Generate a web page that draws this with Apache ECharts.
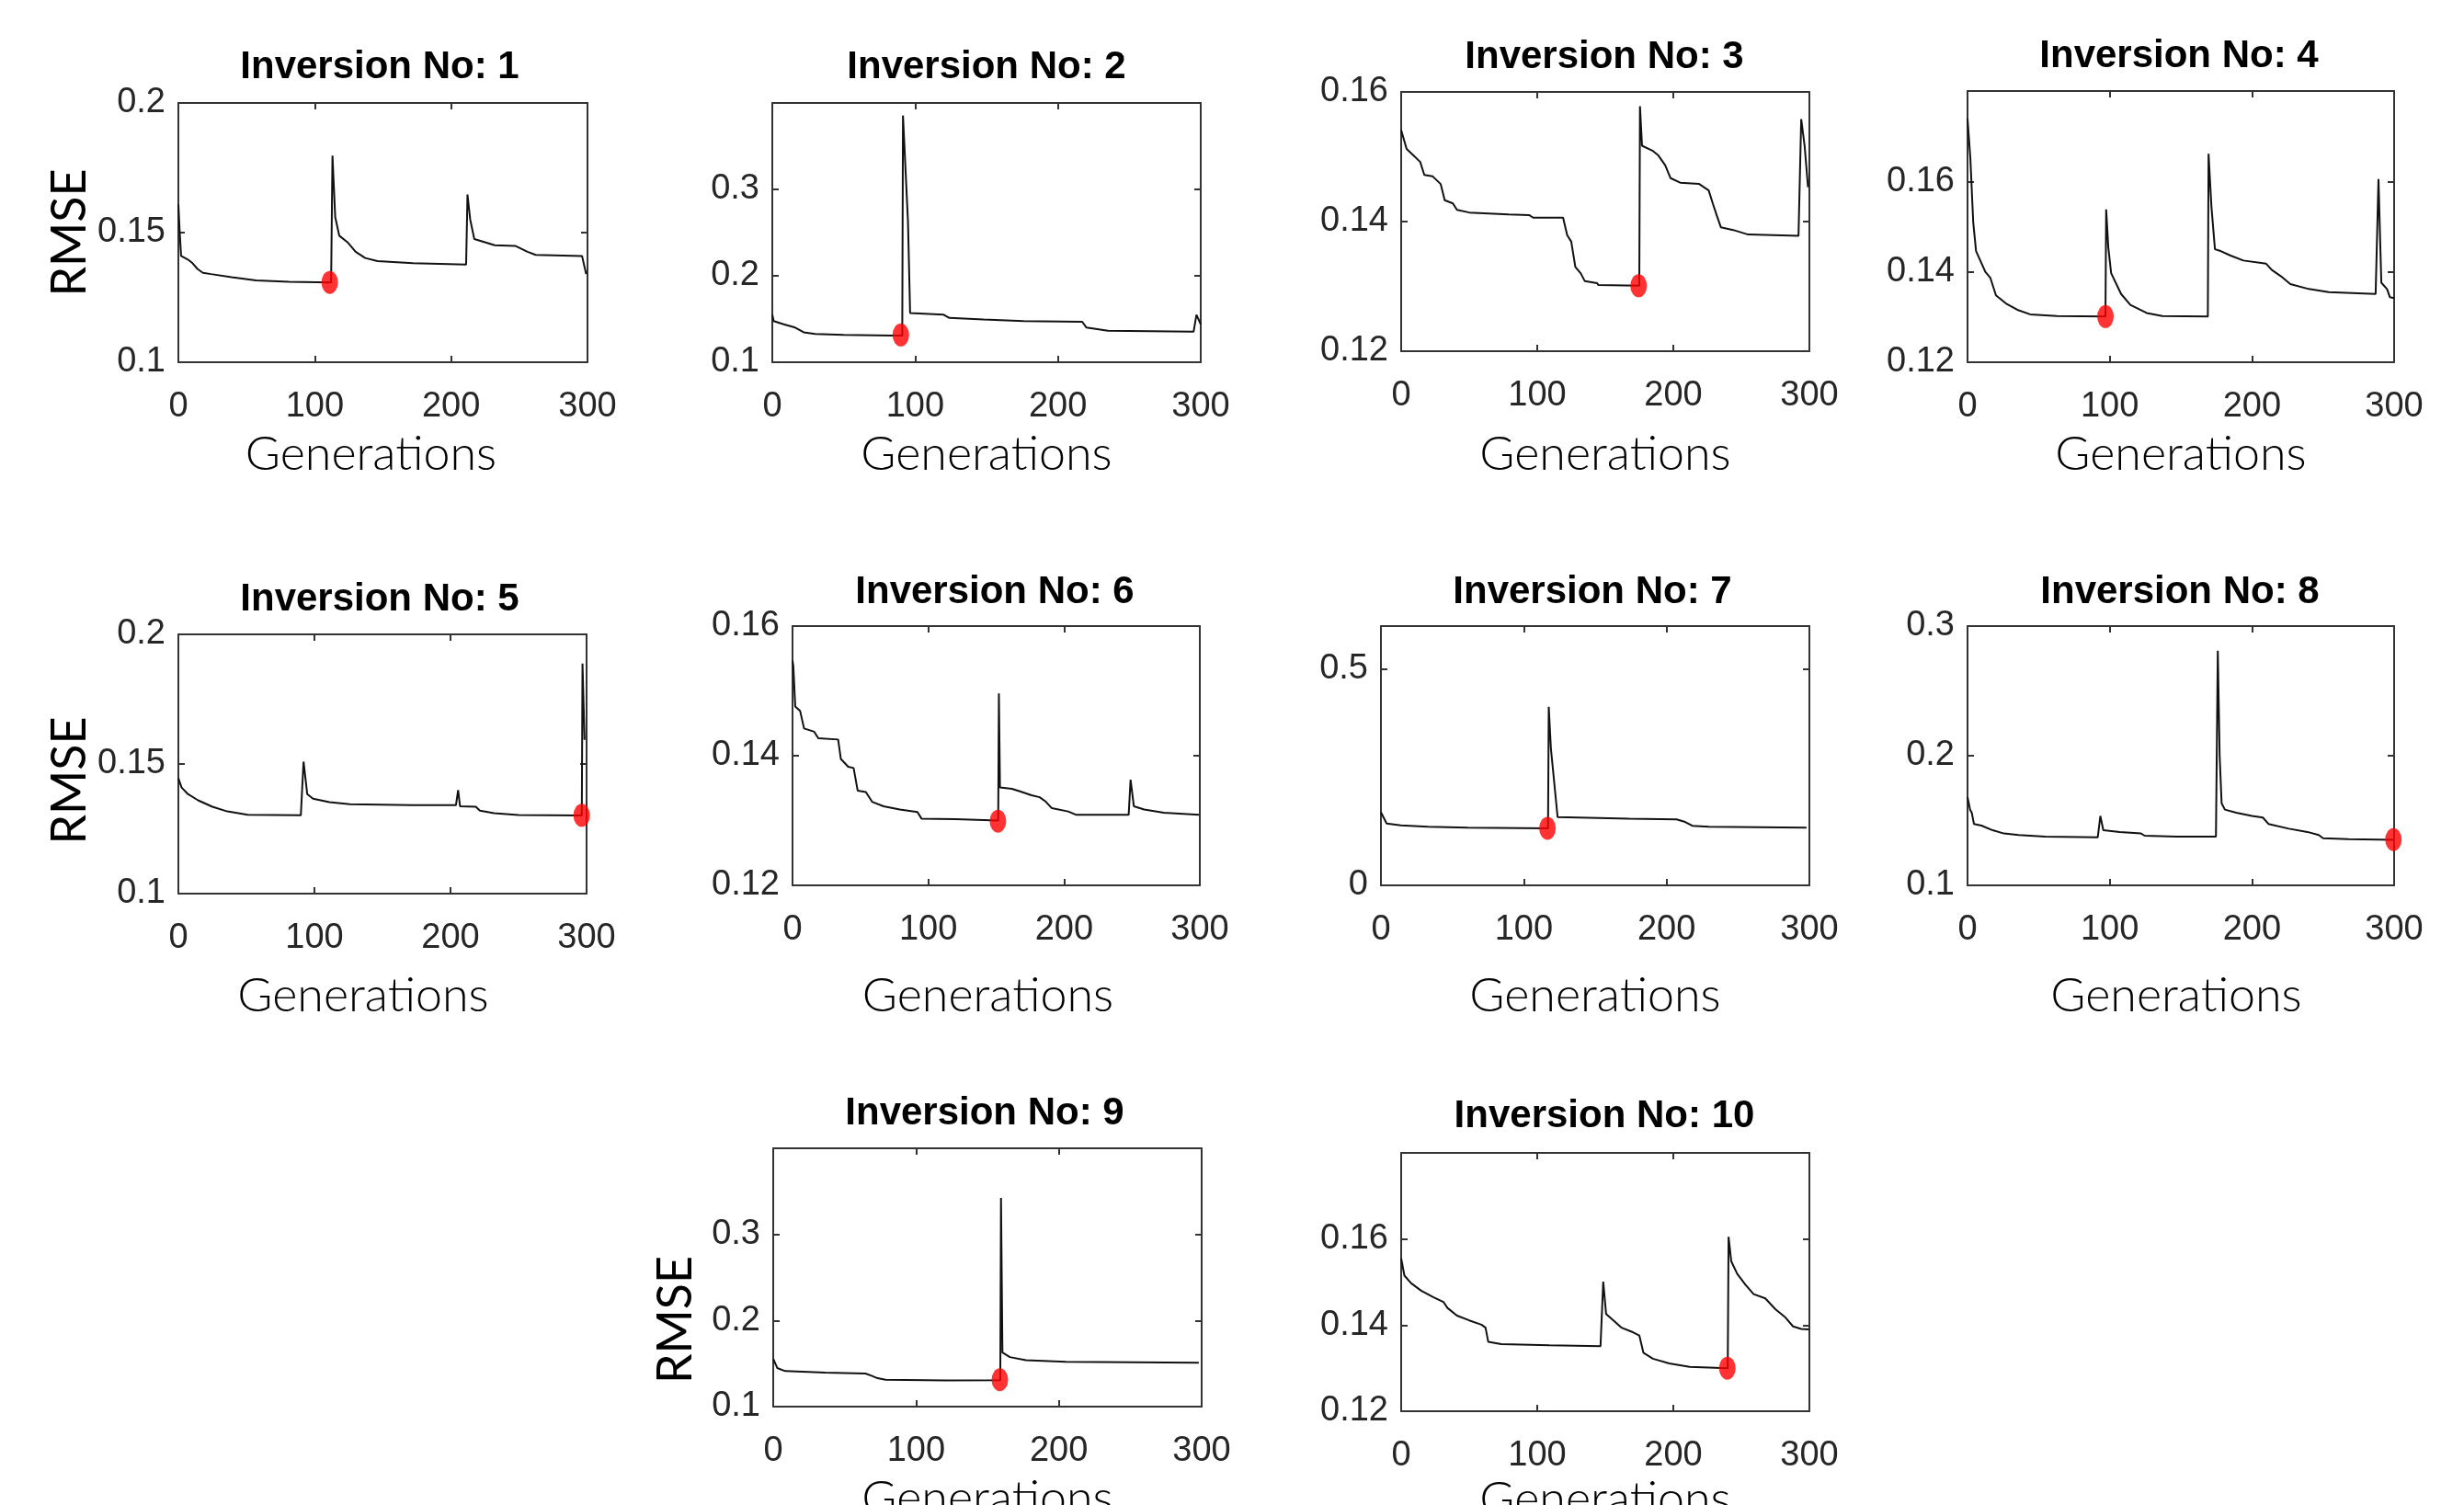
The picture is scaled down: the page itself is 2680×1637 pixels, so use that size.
<!DOCTYPE html>
<html>
<head>
<meta charset="utf-8">
<title>Inversion RMSE</title>
<script src="https://cdn.jsdelivr.net/npm/echarts@6.0.0/dist/echarts.min.js"></script>
<style>
html, body { margin: 0; padding: 0; background: #fff; }
#chart { width: 2680px; height: 1637px; }
</style>
</head>
<body>
<div id="chart"></div>
<script>
// RMSE per generation as [generation, rmse] breakpoints
const inv1 = [[0, 0.161], [1, 0.150], [2, 0.141], [7, 0.1396], [10, 0.1384], [14, 0.136], [18, 0.1345], [24, 0.134], [39, 0.1328], [57, 0.1316], [81, 0.131], [112, 0.1308], [113, 0.1797], [115, 0.156], [118, 0.1488], [124, 0.1463], [130, 0.1426], [137, 0.1402], [146, 0.139], [172, 0.1382], [211, 0.1377], [212, 0.1647], [214, 0.155], [217, 0.1475], [232, 0.1451], [247, 0.1449], [256, 0.1426], [262, 0.1414], [296, 0.141], [299, 0.134]]
const inv2 = [[0, 0.155], [1, 0.1476], [8, 0.1439], [16, 0.1401], [22, 0.1346], [30, 0.1327], [50, 0.1316], [84, 0.1309], [91, 0.1309], [91.5, 0.3855], [95, 0.263], [96.5, 0.157], [120, 0.155], [124, 0.1513], [148, 0.1494], [176, 0.1476], [217, 0.1468], [220, 0.1401], [235, 0.1364], [295, 0.1353], [297, 0.155], [300, 0.1439]]
const inv3 = [[0, 0.1541], [4, 0.1512], [9, 0.1502], [14, 0.1492], [17, 0.1472], [23, 0.147], [29, 0.1458], [32, 0.1433], [38, 0.1428], [41, 0.1418], [50, 0.1414], [79, 0.1411], [94, 0.141], [97, 0.1406], [119, 0.1406], [122, 0.1379], [125, 0.1369], [128, 0.133], [132, 0.132], [135, 0.1308], [144, 0.1305], [145, 0.1302], [175, 0.1301], [175.5, 0.1578], [177, 0.1517], [185, 0.1509], [189, 0.1502], [194, 0.1487], [198, 0.1467], [205, 0.146], [219, 0.1458], [226, 0.1448], [229, 0.1428], [232, 0.1409], [235, 0.1391], [244, 0.1387], [255, 0.138], [292, 0.1378], [294, 0.1558], [296.5, 0.1517], [299, 0.1453]]
const inv4 = [[0, 0.1739], [2, 0.1651], [4, 0.151], [6, 0.1446], [10, 0.1418], [12.5, 0.14], [16, 0.1387], [20, 0.1348], [27, 0.133], [35, 0.1316], [44, 0.1306], [63, 0.1302], [97, 0.1301], [97.5, 0.1538], [99, 0.1454], [101, 0.1397], [108, 0.1351], [114.5, 0.1327], [126, 0.1309], [137, 0.1302], [169, 0.1301], [169.5, 0.1661], [171.5, 0.1545], [174, 0.145], [178, 0.1446], [185, 0.1436], [194, 0.1425], [210, 0.1418], [214, 0.1404], [220.5, 0.139], [227, 0.1373], [240, 0.1362], [254, 0.1355], [287, 0.1351], [289, 0.1605], [291, 0.1376], [295, 0.1362], [297, 0.1344], [300, 0.1342]]
const inv5 = [[0, 0.1445], [2.4, 0.1409], [7, 0.1384], [14.5, 0.136], [25, 0.1335], [36, 0.1317], [51, 0.1304], [90, 0.1302], [92, 0.1509], [94.7, 0.1384], [99, 0.1366], [111, 0.1353], [126, 0.1345], [172, 0.1341], [204, 0.1341], [205.6, 0.1399], [207, 0.1337], [218.6, 0.1335], [221.6, 0.132], [232, 0.131], [250, 0.1303], [296.5, 0.1301], [297, 0.1887], [298.5, 0.1593]]
const inv6 = [[0, 0.1547], [0.6, 0.1538], [2, 0.1476], [5.6, 0.1469], [8.5, 0.1442], [16, 0.1437], [19, 0.1427], [33.6, 0.1425], [35.6, 0.1395], [41, 0.1383], [45, 0.1381], [48, 0.1346], [54, 0.1344], [58.6, 0.1329], [67, 0.1322], [79, 0.1317], [92, 0.1313], [95, 0.1303], [120, 0.1302], [151.5, 0.13], [152, 0.1496], [152.8, 0.1351], [161.6, 0.1349], [167.5, 0.1345], [176, 0.1339], [182, 0.1336], [186.6, 0.1329], [191, 0.1319], [203, 0.1314], [208.7, 0.1309], [247.6, 0.1309], [249, 0.1363], [251.4, 0.1322], [259, 0.1317], [273.5, 0.1312], [299.4, 0.1309]]
const inv7 = [[0, 0.169], [4, 0.143], [14, 0.139], [33, 0.1356], [61, 0.1333], [117, 0.1319], [117.5, 0.4133], [119, 0.317], [123.7, 0.158], [145.5, 0.1563], [173.6, 0.154], [207, 0.1526], [213, 0.1467], [218, 0.1378], [229.6, 0.1356], [298, 0.1333]]
const inv8 = [[0, 0.1682], [1.8, 0.1584], [3, 0.156], [4.5, 0.1474], [9.8, 0.1461], [17.7, 0.1425], [25.6, 0.14], [36, 0.1388], [54.6, 0.1376], [91.6, 0.1371], [93.4, 0.1535], [95.5, 0.1425], [107, 0.1412], [122, 0.14], [124.6, 0.1383], [147, 0.1376], [174.7, 0.1376], [176, 0.2811], [177.3, 0.2], [178.7, 0.1633], [181, 0.1584], [189, 0.156], [200, 0.1535], [207.7, 0.1523], [211.6, 0.1474], [226, 0.1437], [239, 0.1412], [247, 0.1388], [250, 0.1363], [268, 0.1356], [299.5, 0.1351]]
const inv9 = [[0, 0.1557], [2.8, 0.1449], [8.4, 0.1413], [36.5, 0.1395], [64.6, 0.1384], [68.8, 0.1359], [73, 0.133], [78.7, 0.1312], [120.8, 0.1305], [159, 0.1307], [159.5, 0.3424], [160.5, 0.1628], [165.7, 0.1575], [177, 0.1539], [205, 0.1521], [298, 0.151]]
const inv10 = [[0, 0.1555], [2.4, 0.1515], [7.4, 0.1497], [14.7, 0.148], [23.5, 0.1465], [31, 0.1454], [34, 0.144], [41, 0.1422], [50, 0.1411], [59, 0.1401], [62, 0.1394], [64, 0.1361], [73.5, 0.1356], [109, 0.1353], [146.5, 0.1351], [148.5, 0.1501], [150.6, 0.1426], [156, 0.1411], [162, 0.1394], [170.6, 0.1383], [175, 0.1376], [178, 0.1336], [185, 0.1322], [197, 0.1311], [212, 0.1303], [240, 0.13], [240.6, 0.1605], [242.6, 0.1548], [247, 0.1519], [253, 0.1494], [259, 0.1472], [267.6, 0.1462], [275, 0.1437], [282, 0.1419], [288, 0.1397], [294, 0.1391], [299.4, 0.139]]
const runs = [inv1, inv2, inv3, inv4, inv5, inv6, inv7, inv8, inv9, inv10]

// best (red) point of each inversion
const bestGen = [111, 90, 174.5, 97, 296.4, 151.3, 116.6, 299.5, 158.7, 239.7]
const bestRmse = [0.1308, 0.1316, 0.1301, 0.1301, 0.1302, 0.1299, 0.132, 0.1353, 0.1312, 0.13]

// axes
const inversionNo = [1, 2, 3, 4, 5, 6, 7, 8, 9, 10]
const yMin = [0.1, 0.1, 0.12, 0.12, 0.1, 0.12, 0, 0.1, 0.1, 0.12]
const yMax = [0.2, 0.4, 0.16, 0.18, 0.2, 0.16, 0.6, 0.3, 0.4, 0.18]
const yStep = [0.05, 0.1, 0.02, 0.02, 0.05, 0.02, 0.5, 0.1, 0.1, 0.02]
const yTopLabel = [true, false, true, false, true, true, false, true, false, false]
const genMin = 0
const genMax = 300
const genStep = 100

// layout: plot box [left, top, right, bottom], title centre, x name gap
const boxes = [
  [194, 112, 639, 394], [840, 112, 1306, 394], [1524, 100, 1968, 382], [2140, 99, 2604, 394],
  [194, 690, 638, 972], [862, 681, 1305, 963], [1502, 681, 1968, 963], [2140, 681, 2604, 963],
  [841, 1249, 1307, 1530], [1524, 1254, 1968, 1535]
]
const titlePos = [
  [413, 73], [1073, 73], [1745, 62], [2370, 61],
  [413, 652], [1082, 644], [1732, 644], [2371, 644],
  [1071, 1211], [1745, 1214]
]
const genGap = [74, 74, 86, 74, 85, 94, 94, 94, 74, 70]
const genShift = [26, 0, 0, 0, 42, 18, 0, 10, 0, 0]
const rmseGap = { 0: 92, 4: 92, 8: 80 }
const rmseShift = { 0: 0, 4: 36, 8: 92 }

const numFont = "'Liberation Sans Narrow', 'Arial Narrow', 'Liberation Sans', sans-serif"
const wordFont = "Lato, 'Open Sans', sans-serif"
const axisColor = '#333333'

const grid = []
const xAxis = []
const yAxis = []
const title = []
const series = []

boxes.forEach((b, i) => {
  grid.push({
    left: b[0],
    top: b[1],
    width: b[2] - b[0],
    height: b[3] - b[1],
    containLabel: false,
    outerBoundsMode: 'none'
  })
  title.push({
    text: 'Inversion No: ' + inversionNo[i],
    left: titlePos[i][0],
    top: titlePos[i][1],
    textAlign: 'center',
    textVerticalAlign: 'middle',
    padding: 0,
    textStyle: {
      fontFamily: numFont,
      fontWeight: 'bold',
      fontSize: 42,
      color: '#000'
    }
  })
  const line = { show: true, onZero: false, lineStyle: { color: axisColor, width: 2 } }
  const tick = { show: true, inside: true, length: 7, lineStyle: { color: axisColor, width: 2 } }
  // bottom x axis with labels
  xAxis.push({
    gridIndex: i,
    type: 'value',
    position: 'bottom',
    min: genMin,
    max: genMax,
    interval: genStep,
    axisLine: line,
    axisTick: tick,
    splitLine: { show: false },
    axisLabel: {
      margin: 30,
      fontFamily: numFont,
      fontSize: 38,
      color: '#262626'
    },
    name: 'Generations',
    nameLocation: 'middle',
    nameGap: genGap[i],
    nameTextStyle: {
      fontFamily: wordFont,
      fontWeight: 300,
      fontSize: 52,
      color: '#000',
      padding: [0, genShift[i], 0, 0]
    }
  })
  // top x axis, ticks only (box)
  xAxis.push({
    gridIndex: i,
    type: 'value',
    position: 'top',
    min: genMin,
    max: genMax,
    interval: genStep,
    axisLine: line,
    axisTick: tick,
    splitLine: { show: false },
    axisLabel: { show: false }
  })
  const left = {
    gridIndex: i,
    type: 'value',
    position: 'left',
    min: yMin[i],
    max: yMax[i],
    interval: yStep[i],
    axisLine: line,
    axisTick: tick,
    splitLine: { show: false },
    axisLabel: {
      margin: 14,
      showMaxLabel: yTopLabel[i],
      showMinLabel: true,
      fontFamily: numFont,
      fontSize: 38,
      color: '#262626',
      padding: [16, 0, 0, 0]
    }
  }
  if (rmseGap[i] !== undefined) {
    left.name = 'RMSE'
    left.nameLocation = 'middle'
    left.nameGap = rmseGap[i]
    left.nameTextStyle = {
      fontFamily: wordFont,
      fontWeight: 'normal',
      fontSize: 52,
      color: '#000',
      padding: [0, rmseShift[i], 0, 0]
    }
  }
  yAxis.push(left)
  // right y axis, ticks only (box)
  yAxis.push({
    gridIndex: i,
    type: 'value',
    position: 'right',
    min: yMin[i],
    max: yMax[i],
    interval: yStep[i],
    axisLine: line,
    axisTick: tick,
    splitLine: { show: false },
    axisLabel: { show: false }
  })
  series.push({
    type: 'line',
    xAxisIndex: 2 * i,
    yAxisIndex: 2 * i,
    data: runs[i],
    showSymbol: false,
    symbol: 'none',
    lineStyle: { color: '#111', width: 2 },
    z: 2
  })
  series.push({
    type: 'scatter',
    xAxisIndex: 2 * i,
    yAxisIndex: 2 * i,
    data: [[bestGen[i], bestRmse[i]]],
    symbol: 'circle',
    symbolSize: [18, 25],
    itemStyle: { color: '#ff0000' },
    z: 3
  })
})

const myChart = echarts.init(document.getElementById('chart'), null, { renderer: 'canvas' })
myChart.setOption({
  backgroundColor: '#fff',
  animation: false,
  title: title,
  grid: grid,
  xAxis: xAxis,
  yAxis: yAxis,
  series: series
})
</script>
</body>
</html>
